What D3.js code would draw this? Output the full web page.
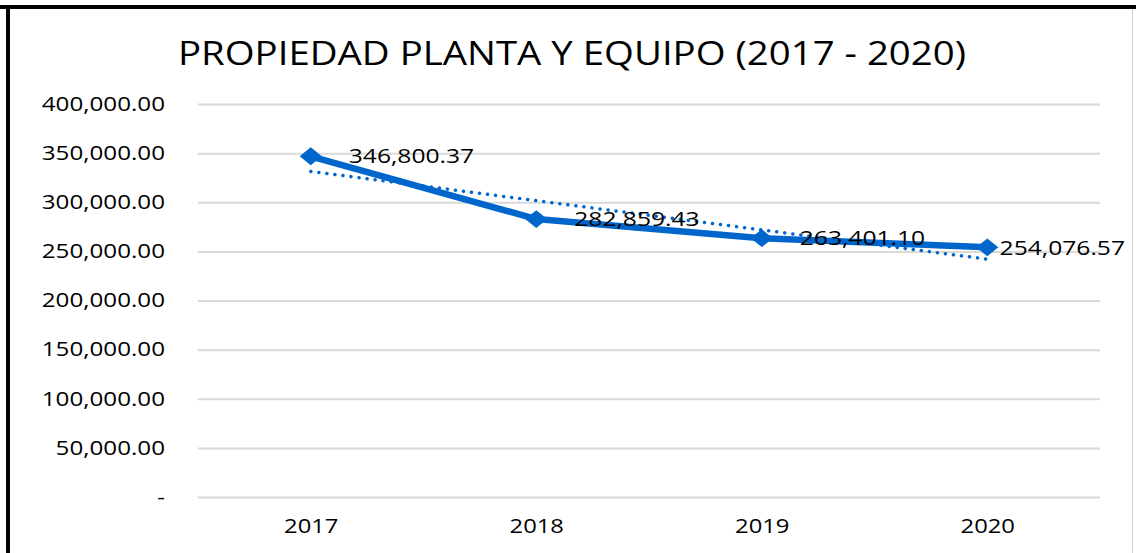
<!DOCTYPE html>
<html>
<head>
<meta charset="utf-8">
<script src="https://cdn.jsdelivr.net/npm/d3@7"></script>
<style>
  body { margin: 0; background: #fff; }
  text { font-family: "Open Sans", "Noto Sans", sans-serif; fill: #000; }
</style>
</head>
<body>
<div id="chart"></div>
<script>
const years = ["2017", "2018", "2019", "2020"];
const values = [346800.37, 282859.43, 263401.10, 254076.57];
// linear trend line at first and last year
const trendYears = ["2017", "2020"];
const trendValues = [331400, 242100];
const yTicks = [0, 50000, 100000, 150000, 200000, 250000, 300000, 350000, 400000];
const title = "PROPIEDAD PLANTA Y EQUIPO (2017 - 2020)";

const W = 1136, H = 553;
const blue = "#0066cc";
const margin = {top: 104, right: 36, bottom: 56, left: 198};
const width = W - margin.left - margin.right;
const height = H - margin.top - margin.bottom;

// the original text is a bit wider than Open Sans
const stretch = (sel, k) => sel.each(function() {
  const len = this.getComputedTextLength();
  d3.select(this).attr("textLength", len * k).attr("lengthAdjust", "spacingAndGlyphs");
});

const svg = d3.select("#chart").append("svg").attr("width", W).attr("height", H);

// frame
svg.append("line").attr("x1", 0).attr("x2", W).attr("y1", 7).attr("y2", 7)
  .attr("stroke", "#000").attr("stroke-width", 4);
svg.append("line").attr("x1", 8).attr("x2", 8).attr("y1", 5).attr("y2", H)
  .attr("stroke", "#000").attr("stroke-width", 4);
svg.append("line").attr("x1", 1132.5).attr("x2", 1132.5).attr("y1", 9).attr("y2", H)
  .attr("stroke", "#d0d0d0").attr("stroke-width", 1);

svg.append("text")
  .attr("x", 572).attr("y", 65)
  .attr("text-anchor", "middle")
  .attr("font-size", 33)
  .attr("textLength", 788).attr("lengthAdjust", "spacingAndGlyphs")
  .text(title);

const g = svg.append("g").attr("transform", `translate(${margin.left},${margin.top})`);

const x = d3.scalePoint().domain(years).range([0, width]).padding(0.5);
const y = d3.scaleLinear().domain([0, 400000]).range([height, 0]);

const fmt = d3.format(",.2f");

const yAxis = g.append("g")
  .call(d3.axisLeft(y).tickValues(yTicks).tickSize(-width)
    .tickFormat(d => d === 0 ? "-" : fmt(d)));
yAxis.select(".domain").remove();
yAxis.selectAll(".tick line").attr("stroke", "#d9d9d9").attr("stroke-width", 2);
yAxis.selectAll(".tick text").attr("x", -33).attr("font-size", 19.5)
  .attr("fill", "#000").attr("font-family", "Open Sans, sans-serif")
  .call(stretch, 1.24);

const xAxis = g.append("g").attr("transform", `translate(0,${height})`)
  .call(d3.axisBottom(x).tickSize(0).tickPadding(22));
xAxis.select(".domain").remove();
xAxis.selectAll(".tick text").attr("font-size", 19.5)
  .attr("fill", "#000").attr("font-family", "Open Sans, sans-serif")
  .call(stretch, 1.22);

const series = years.map((d, i) => ({year: d, value: values[i]}));
const trend = trendYears.map((d, i) => ({year: d, value: trendValues[i]}));

const line = d3.line().x(d => x(d.year)).y(d => y(d.value));

g.append("path").datum(series)
  .attr("fill", "none").attr("stroke", blue).attr("stroke-width", 6.5)
  .attr("stroke-linejoin", "round")
  .attr("d", line);

g.append("path").datum(trend)
  .attr("fill", "none").attr("stroke", blue).attr("stroke-width", 3.5)
  .attr("stroke-linecap", "round").attr("stroke-dasharray", "0.1 8")
  .attr("d", line);

g.selectAll(".marker").data(series).enter().append("path")
  .attr("class", "marker")
  .attr("transform", d => `translate(${x(d.year)},${y(d.value)}) scale(1.12,0.9)`)
  .attr("d", d3.symbol(d3.symbolDiamond2, 250)())
  .attr("fill", blue);

// labels sit right of the point, pushed back left when they would leave the frame
const labelLimit = 1125 - margin.left;
g.selectAll(".label").data(series).enter().append("text")
  .attr("class", "label")
  .attr("x", d => x(d.year) + 38)
  .attr("y", d => y(d.value))
  .attr("dy", "0.35em")
  .attr("font-size", 20.5)
  .text(d => fmt(d.value))
  .call(stretch, 1.2)
  .each(function(d) {
    const len = +this.getAttribute("textLength");
    const x0 = Math.min(x(d.year) + 38, labelLimit - len);
    d3.select(this).attr("x", x0);
  });
</script>
</body>
</html>
